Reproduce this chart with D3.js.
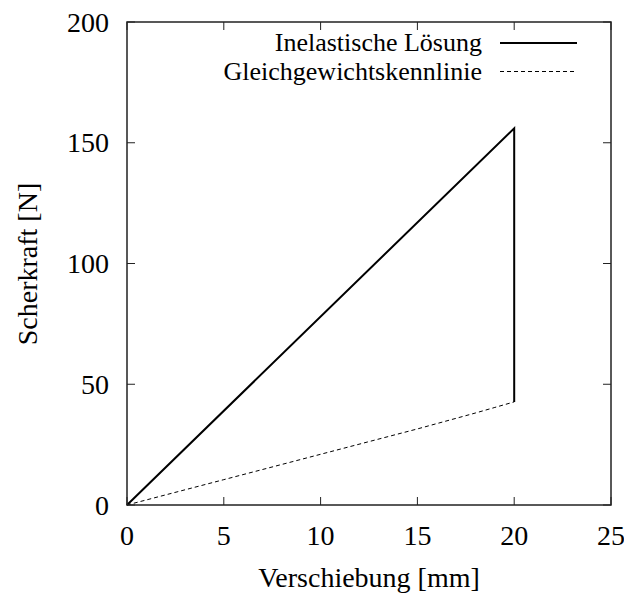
<!DOCTYPE html>
<html>
<head>
<meta charset="utf-8">
<script src="https://cdn.jsdelivr.net/npm/d3@7"></script>
<style>
  body { margin: 0; background: #fff; }
</style>
</head>
<body>
<svg></svg>
<script>
const size = {w: 624, h: 594};
const margin = {t: 22, r: 13, b: 89, l: 127};
const serif = "'Liberation Serif', 'Times New Roman', Times, 'DejaVu Serif', serif";

// inelastic solution: loading up to 20 mm, then relaxation back down
const inelX = [0, 20, 20];
const inelY = [0, 156, 42.7];

// equilibrium curve
const eqX = [0, 5, 10, 15, 17.5, 18, 19, 20];
const eqY = [0, 10.5, 21, 31.5, 37, 38.1, 40.4, 42.7];

const xTicks = [0, 5, 10, 15, 20, 25];
const yTicks = [0, 50, 100, 150, 200];

const legendLabels = ['Inelastische Lösung', 'Gleichgewichtskennlinie'];

const svg = d3.select('svg')
    .attr('width', size.w)
    .attr('height', size.h)
    .attr('font-family', serif);

const x = d3.scaleLinear().domain([0, 25]).range([margin.l, size.w - margin.r]);
const y = d3.scaleLinear().domain([0, 200]).range([size.h - margin.b, margin.t]);

const tickLen = 8;

// ticks on all four sides, pointing inward
let tickG = svg.append('g').attr('stroke', '#222').attr('stroke-width', 1);
xTicks.forEach(t => {
    tickG.append('line').attr('x1', x(t)).attr('x2', x(t))
        .attr('y1', y(0)).attr('y2', y(0) - tickLen);
    tickG.append('line').attr('x1', x(t)).attr('x2', x(t))
        .attr('y1', y(200)).attr('y2', y(200) + tickLen);
});
yTicks.forEach(t => {
    tickG.append('line').attr('x1', x(0)).attr('x2', x(0) + tickLen)
        .attr('y1', y(t)).attr('y2', y(t));
    tickG.append('line').attr('x1', x(25)).attr('x2', x(25) - tickLen)
        .attr('y1', y(t)).attr('y2', y(t));
});

// tick labels
svg.append('g').selectAll('text')
    .data(xTicks)
    .join('text')
    .attr('x', d => x(d))
    .attr('y', y(0) + 40)
    .attr('text-anchor', 'middle')
    .attr('font-size', 28)
    .text(d => d);

svg.append('g').selectAll('text')
    .data(yTicks)
    .join('text')
    .attr('x', x(0) - 18)
    .attr('y', d => y(d) + 9.5)
    .attr('text-anchor', 'end')
    .attr('font-size', 28)
    .text(d => d);

// axis titles
svg.append('text')
    .attr('x', (x(0) + x(25)) / 2)
    .attr('y', 587)
    .attr('text-anchor', 'middle')
    .attr('font-size', 28)
    .text('Verschiebung [mm]');

svg.append('text')
    .attr('transform', `translate(37,264) rotate(-90)`)
    .attr('text-anchor', 'middle')
    .attr('font-size', 28)
    .text('Scherkraft [N]');

// lines
const line = d3.line();

svg.append('path')
    .attr('d', line(eqX.map((d, i) => [x(d), y(eqY[i])])))
    .attr('fill', 'none')
    .attr('stroke', '#000')
    .attr('stroke-width', 1)
    .attr('stroke-dasharray', '4,3');

svg.append('path')
    .attr('d', line(inelX.map((d, i) => [x(d), y(inelY[i])])))
    .attr('fill', 'none')
    .attr('stroke', '#000')
    .attr('stroke-width', 2);

// frame
svg.append('rect')
    .attr('x', x(0)).attr('y', y(200))
    .attr('width', x(25) - x(0)).attr('height', y(0) - y(200))
    .attr('fill', 'none')
    .attr('stroke', '#222')
    .attr('stroke-width', 1.5);

// legend
let legendG = svg.append('g');
legendLabels.forEach((lab, i) => {
    let ly = 43 + i * 28.5;
    legendG.append('text')
        .attr('x', 482)
        .attr('y', ly + 8)
        .attr('text-anchor', 'end')
        .attr('font-size', 26)
        .text(lab);
    legendG.append('line')
        .attr('x1', 500).attr('x2', 577)
        .attr('y1', ly).attr('y2', ly)
        .attr('stroke', '#000')
        .attr('stroke-width', i === 0 ? 2 : 1)
        .attr('stroke-dasharray', i === 0 ? null : '4,3');
});
</script>
</body>
</html>
